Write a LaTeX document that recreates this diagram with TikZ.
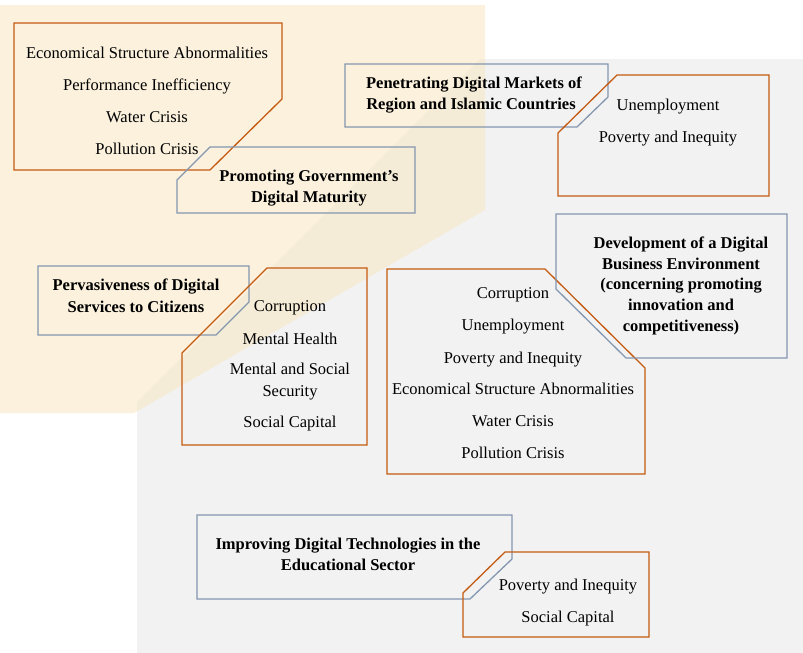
\documentclass[tikz,border=0pt]{standalone}
\usepackage{fontspec}
\setmainfont{Liberation Serif}
\definecolor{orangeB}{RGB}{197,90,17}
\definecolor{blueB}{RGB}{132,151,176}
\definecolor{greyBg}{RGB}{242,242,242}
\definecolor{creamBg}{RGB}{248,232,198}
\tikzset{
  obox/.style={draw=orangeB, line width=1.3pt, line join=miter},
  bbox/.style={draw=blueB, line width=1.3pt, line join=miter},
  itm/.style={anchor=base, inner sep=0pt, font=\fontsize{16.5}{20}\selectfont},
  ttl/.style={anchor=base, inner sep=0pt, font=\fontsize{16.5}{20}\selectfont\bfseries},
}
\begin{document}
\begin{tikzpicture}[x=1pt,y=-1pt]
\useasboundingbox (0,0) rectangle (803,653);
% backgrounds
\fill[greyBg] (480,59) -- (803,59) -- (803,653) -- (137,653) -- (137,402) -- cycle;
\fill[creamBg, fill opacity=0.6] (0,5) -- (485,5) -- (485,210) -- (134,413) -- (0,413) -- cycle;

% box 1 (orange, top-left)
\draw[obox] (14,23) -- (282,23) -- (282,99) -- (210,170) -- (14,170) -- cycle;
\node[itm] (b1a) at (147,58) {Economical Structure Abnormalities};
\node[itm] (b1b) at (147,90) {Performance Inefficiency};
\node[itm] (b1c) at (147,122) {Water Crisis};
\node[itm] (b1d) at (147,154) {Pollution Crisis};

% box 2 (blue, Promoting Government's Digital Maturity)
\draw[bbox] (210,147) -- (415,147) -- (415,213) -- (177,213) -- (177,180) -- cycle;
\node[ttl] (b2a) at (309,181) {Promoting Government’s};
\node[ttl] (b2b) at (309,202) {Digital Maturity};

% box 3 (blue, Penetrating Digital Markets)
\draw[bbox] (345,64) -- (608,64) -- (608,97) -- (577,127) -- (345,127) -- cycle;
\node[ttl] (b3a) at (474,88) {Penetrating Digital Markets of};
\node[ttl] (b3b) at (471,109) {Region and Islamic Countries};

% box 4 (orange, Unemployment)
\draw[obox] (617,75) -- (769,75) -- (769,196) -- (558,196) -- (558,133) -- cycle;
\node[itm] (b4a) at (668,110) {Unemployment};
\node[itm] (b4b) at (668,142) {Poverty and Inequity};

% box 5 (blue, Pervasiveness)
\draw[bbox] (38,266) -- (249,266) -- (249,302) -- (216,335) -- (38,335) -- cycle;
\node[ttl] (b5a) at (136,290) {Pervasiveness of Digital};
\node[ttl] (b5b) at (136,312) {Services to Citizens};

% box 6 (orange, Corruption ...)
\draw[obox] (267,268) -- (367,268) -- (367,445) -- (182,445) -- (182,353) -- cycle;
\node[itm] (b6a) at (290,311) {Corruption};
\node[itm] (b6b) at (290,344) {Mental Health};
\node[itm] (b6c) at (290,374) {Mental and Social};
\node[itm] (b6d) at (290,396) {Security};
\node[itm] (b6e) at (290,427) {Social Capital};

% box 7 (orange, big centre)
\draw[obox] (387,269) -- (545,269) -- (645,368) -- (645,474) -- (387,474) -- cycle;
\node[itm] (b7a) at (513,298) {Corruption};
\node[itm] (b7b) at (513,330) {Unemployment};
\node[itm] (b7c) at (513,363) {Poverty and Inequity};
\node[itm] (b7d) at (513,394) {Economical Structure Abnormalities};
\node[itm] (b7e) at (513,426) {Water Crisis};
\node[itm] (b7f) at (513,458) {Pollution Crisis};

% box 8 (blue, Development of a Digital Business Environment)
\draw[bbox] (556,214) -- (787,214) -- (787,358) -- (626,358) -- (556,289) -- cycle;
\node[ttl] (b8a) at (681,248) {Development of a Digital};
\node[ttl] (b8b) at (681,269) {Business Environment};
\node[ttl] (b8c) at (681,289) {(concerning promoting};
\node[ttl] (b8d) at (681,310) {innovation and};
\node[ttl] (b8e) at (681,331) {competitiveness)};

% box 9 (blue, Improving Digital Technologies)
\draw[bbox] (197,515) -- (512,515) -- (512,559) -- (470,599) -- (197,599) -- cycle;
\node[ttl] (b9a) at (348,549) {Improving Digital Technologies in the};
\node[ttl] (b9b) at (348,570) {Educational Sector};

% box 10 (orange, Poverty / Social Capital)
\draw[obox] (505,552) -- (649,552) -- (649,637) -- (463,637) -- (463,593) -- cycle;
\node[itm] (b10a) at (568,590) {Poverty and Inequity};
\node[itm] (b10b) at (568,622) {Social Capital};
\end{tikzpicture}
\end{document}
